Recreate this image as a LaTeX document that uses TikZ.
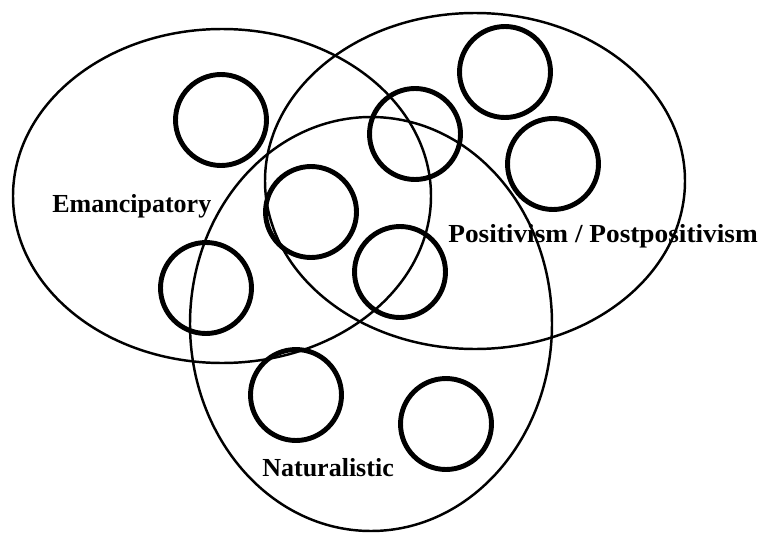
\documentclass[tikz,border=0pt]{standalone}
\usepackage{fontspec}
\setmainfont{Liberation Serif}
\begin{document}
\begin{tikzpicture}[x=0.02cm,y=-0.02cm,
  setline/.style={line width=1.4pt},
  member/.style={circle,draw,line width=2.8pt,minimum size=1.82cm,inner sep=0pt},
  setlabel/.style={anchor=base west,inner sep=0pt,font=\fontsize{14.8}{17}\selectfont\bfseries}]
\useasboundingbox (0,0) rectangle (761,534);
% sets
\draw[setline] (222,196) ellipse [x radius=209, y radius=167];
\draw[setline] (475,181) ellipse [x radius=210, y radius=168];
\draw[setline] (371,324) ellipse [x radius=181, y radius=207];
% members
\node[member] (c1) at (221,120) {};
\node[member] (c2) at (505,72) {};
\node[member] (c3) at (553,164) {};
\node[member] (c4) at (415,134) {};
\node[member] (c5) at (311,212) {};
\node[member] (c6) at (206,288) {};
\node[member] (c7) at (400,272) {};
\node[member] (c8) at (296,395) {};
\node[member] (c9) at (446,424) {};
% labels
\node[setlabel] (lemanc) at (52,212) {Emancipatory};
\node[setlabel] (lpos) at (448,242) {\scalebox{1.05}[1]{Positivism / Postpositivism}};
\node[setlabel] (lnat) at (262,476) {Naturalistic};
\end{tikzpicture}
\end{document}
